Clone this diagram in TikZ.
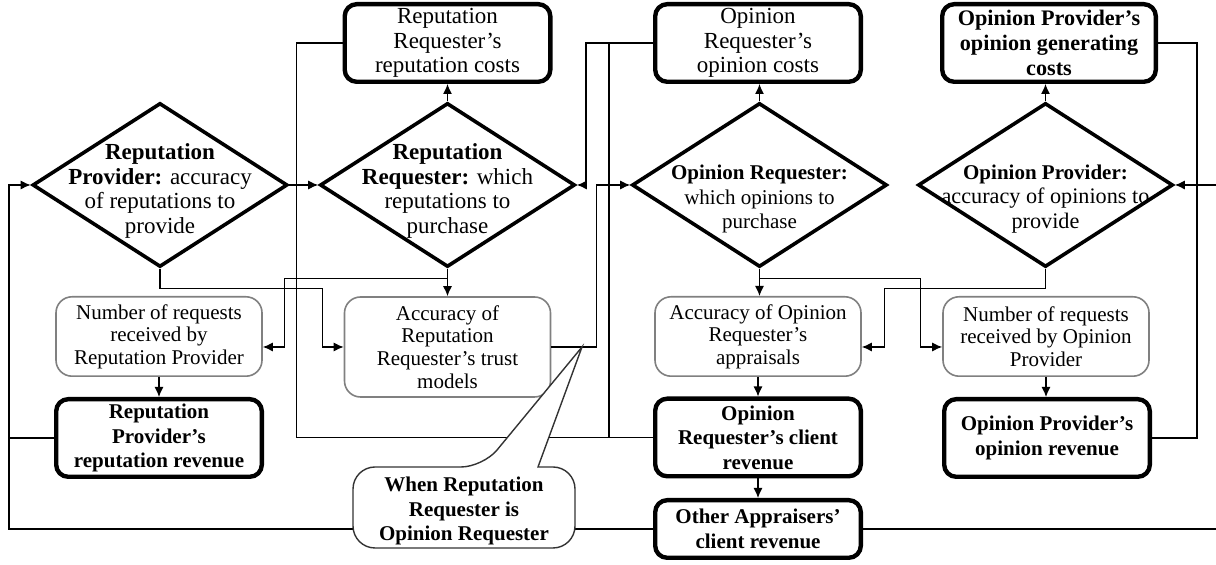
\documentclass[tikz,border=0pt]{standalone}
\usepackage{fontspec}
\setmainfont{Liberation Serif}
\usetikzlibrary{shapes.geometric,arrows.meta,calc}
\newcommand\fsreg{\fontsize{10.5}{12.3}\selectfont}
\newcommand\fsbig{\fontsize{11.5}{12.3}\selectfont}
\newcommand\fsmid{\fontsize{11.1}{12.3}\selectfont}
\newcommand\fsbld{\fontsize{10.5}{12.3}\selectfont\bfseries}
\newcommand\fsgry{\fontsize{10.5}{11.3}\selectfont}
\begin{document}
\begin{tikzpicture}[x=0.5pt,y=-0.5pt,
  bbox/.style={draw, line width=2.2pt, rounded corners=6pt, minimum width=102.8pt,
    minimum height=38.8pt, align=center, inner sep=1pt, fill=white, font=\fsbig},
  bbold/.style={bbox, font=\fsbld},
  gbox/.style={draw=black!50, line width=0.8pt, rounded corners=8pt, minimum width=103pt,
    minimum height=39.7pt, align=center, inner sep=1pt, font=\fsgry},
  dia/.style={diamond, draw, line width=1.8pt, minimum width=127.5pt, minimum height=82pt, inner sep=0pt},
  dtext/.style={align=center, inner sep=0pt, font=\fsreg},
  arr/.style={-{Latex[length=5pt,width=4.5pt]}},
  every path/.append style={line width=0.6pt}]
\useasboundingbox (0,0) rectangle (1216,565);

% top boxes
\node[bbox] (RRcost) at (447.5,43) {Reputation\\Requester’s\\reputation costs};
\node[bbox] (ORcost) at (758,43) {Opinion\\Requester’s\\opinion costs};
\node[bbold, font=\fontsize{11.1}{12.3}\selectfont\bfseries, minimum width=106.8pt] (OPcost) at (1049,43) {Opinion Provider’s\\opinion generating\\costs};

% diamonds
\node[dia] (RP) at (160,185) {};
\node[dtext, font=\fsbig] (RPt) at (160,191) {\textbf{Reputation}\\\textbf{Provider:} accuracy\\of reputations to\\provide};
\node[dia] (RR) at (447.5,185) {};
\node[dtext, font=\fsbig] (RRt) at (447.5,191) {\textbf{Reputation}\\\textbf{Requester:} which\\reputations to\\purchase};
\node[dia] (OR) at (759.5,185) {};
\node[dtext] (ORt) at (759.5,199) {\textbf{Opinion Requester:}\\which opinions to\\purchase};
\node[dia] (OP) at (1045.5,185) {};
\node[dtext, font=\fsmid] (OPt) at (1045.5,199) {\textbf{\fsreg Opinion Provider:}\\accuracy of opinions to\\provide};

% middle row
\node[gbox] (NumRP) at (159,336.5) {Number of requests\\received by\\Reputation Provider};
\node[gbox, minimum height=50pt] (AccRR) at (447.5,347) {Accuracy of\\Reputation\\Requester’s trust\\models};
\node[gbox] (AccOR) at (758,336.5) {Accuracy of Opinion\\Requester’s\\appraisals};
\node[gbox] (NumOP) at (1046,336.5) {Number of requests\\received by Opinion\\Provider};

% revenue row
\node[bbold] (RPrev) at (159,438) {Reputation\\Provider’s\\reputation revenue};
\node[bbold] (ORrev) at (758,437.5) {Opinion\\Requester’s client\\revenue};
\node[bbold] (OPrev) at (1047,438) {Opinion Provider’s\\opinion revenue};
\node[bbold, minimum height=28.8pt] (Other) at (758,529) {Other Appraisers’\\client revenue};

% free ends and corner coordinates
\coordinate (L) at (9,185);
\coordinate (Rin) at (1216,185);
\coordinate (Rout) at (1216,529);
\coordinate (tip) at (582,347);

% connectors
\draw[arr] (RP.east) -- (RR.west);
\draw (RRcost.west) -- ++(-46,0) |- (ORrev.west);
\draw[arr] (ORcost.west) -- ++(-67,0) |- (RR.east);
\draw (ORcost.west) -- ++(-44,0) |- (ORrev.west);
\draw[arr] (AccRR.east) -- ++(45,0) |- (OR.west);
\draw[arr] (RP.south) -- ++(0,20) -| ([xshift=-10.5pt]AccRR.west) -- (AccRR.west);
\draw[arr] (RR.south) -- (RR.south |- AccRR.north);
\draw[arr] ($(RR.south)+(0,10)$) -| ([xshift=11pt,yshift=-5.25pt]NumRP.east) -- ([yshift=-5.25pt]NumRP.east);
\draw[arr] (OR.south) -- (OR.south |- AccOR.north);
\draw[arr] ($(OR.south)+(0,10)$) -| ([xshift=-11pt,yshift=-5.25pt]NumOP.west) -- ([yshift=-5.25pt]NumOP.west);
\draw[arr] (OP.south) -- ++(0,20) -| ([xshift=11.5pt,yshift=-5.25pt]AccOR.east) -- ([yshift=-5.25pt]AccOR.east);
\draw[arr] (RR.north) -- (RR.north |- RRcost.south);
\draw[arr] (OR.north) -- (OR.north |- ORcost.south);
\draw[arr] (OP.north) -- (OP.north |- OPcost.south);
\draw[arr] (NumRP.south) -- (NumRP.south |- RPrev.north);
\draw[arr] (AccOR.south) -- (AccOR.south |- ORrev.north);
\draw[arr] (NumOP.south) -- (NumOP.south |- OPrev.north);
\draw[arr] (ORrev.south) -- (Other.north);
\draw[arr] (Other.west) -| (L) -- (RP.west);
\draw (RPrev.west) -- (RPrev.west -| L);
\draw[arr] (Rin) -- (OP.east);
\draw (Other.east) -- (Rout);
\draw (OPcost.east) -- ++(39,0) |- (OPrev.east);

% callout
\draw[draw=black!80, line width=0.7pt, fill=white, rounded corners=11pt]
  (464,548) -- (353,548) -- (353,467) -- (483,467) [sharp corners] -- (tip)
  -- (538,467) [rounded corners=11pt] -- (575,467) -- (575,548) -- cycle;
\node[dtext, font=\fsbld] (CO) at (464,511) {When Reputation\\Requester is\\Opinion Requester};
\end{tikzpicture}
\end{document}
